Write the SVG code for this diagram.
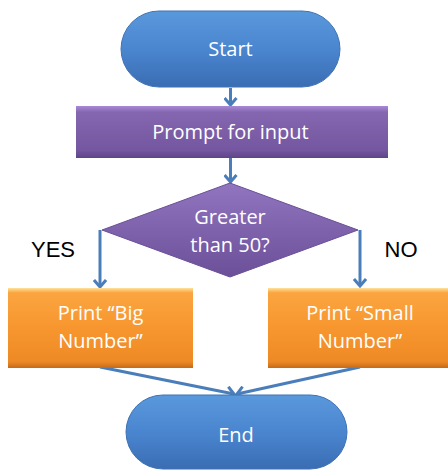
<svg xmlns="http://www.w3.org/2000/svg" width="448" height="470" viewBox="0 0 448 470">
<defs>
<linearGradient id="gBlue" x1="0" y1="0" x2="0" y2="1">
<stop offset="0" stop-color="#5a98dc"/>
<stop offset="0.5" stop-color="#4a86cf"/>
<stop offset="1" stop-color="#3a6db3"/>
</linearGradient>
<linearGradient id="gPurple" x1="0" y1="0" x2="0" y2="1">
<stop offset="0" stop-color="#a98ad6"/>
<stop offset="0.12" stop-color="#8566b0"/>
<stop offset="0.85" stop-color="#7457a0"/>
<stop offset="1" stop-color="#5e4587"/>
</linearGradient>
<linearGradient id="gDiamond" x1="0" y1="0" x2="0" y2="1">
<stop offset="0" stop-color="#9275c0"/>
<stop offset="1" stop-color="#6b4f98"/>
</linearGradient>
<linearGradient id="gOrange" x1="0" y1="0" x2="0" y2="1">
<stop offset="0" stop-color="#fde29a"/>
<stop offset="0.06" stop-color="#fba540"/>
<stop offset="0.5" stop-color="#f7962f"/>
<stop offset="0.92" stop-color="#ee8a25"/>
<stop offset="1" stop-color="#c66a1a"/>
</linearGradient>
<marker id="arr" markerUnits="userSpaceOnUse" markerWidth="14" markerHeight="14" refX="9" refY="7" orient="auto">
<path d="M2,1 L9,7 L2,13" fill="none" stroke="#4a7ebb" stroke-width="3" stroke-linejoin="miter"/>
</marker>
</defs>
<style>
.txt{font-family:"Open Sans","Noto Sans",sans-serif;font-size:20px;fill:#ffffff;text-anchor:middle}
.lbl{font-family:"Liberation Sans",Arial,sans-serif;font-size:22px;fill:#000000;text-anchor:middle}
.con{fill:none;stroke:#4a7ebb;stroke-width:3;marker-end:url(#arr)}
</style>
<g id="connectors">
<line class="con" x1="230.5" y1="88" x2="230.5" y2="105"/>
<line class="con" x1="230.5" y1="158" x2="230.5" y2="182"/>
<polyline class="con" points="100,230 100,287"/>
<polyline class="con" points="360,230 360,286"/>
<line class="con" x1="100" y1="367" x2="234" y2="394"/>
<line class="con" x1="360" y1="367" x2="237" y2="394"/>
</g>
<g id="start">
<rect x="121" y="11" width="219" height="76" rx="38" ry="38" fill="url(#gBlue)" stroke="#3f73b4" stroke-width="1"/>
<text class="txt" x="230.5" y="56">Start</text>
</g>
<g id="prompt">
<rect x="76" y="106" width="312" height="52" fill="url(#gPurple)"/>
<text class="txt" x="230.5" y="139">Prompt for input</text>
</g>
<g id="decision">
<polygon points="230,183 358,230 230,277 102,230" fill="url(#gDiamond)" stroke="#6a4f96" stroke-width="1"/>
<text class="txt" x="230" y="224">Greater</text>
<text class="txt" x="230" y="252">than 50?</text>
</g>
<g id="yes-label"><text class="lbl" x="53" y="257">YES</text></g>
<g id="no-label"><text class="lbl" x="401" y="257">NO</text></g>
<g id="big">
<rect x="8" y="288" width="185" height="80" fill="url(#gOrange)"/>
<text class="txt" x="100.5" y="320">Print “Big</text>
<text class="txt" x="100.5" y="348">Number”</text>
</g>
<g id="small">
<rect x="268" y="288" width="184" height="80" fill="url(#gOrange)"/>
<text class="txt" x="360" y="320">Print “Small</text>
<text class="txt" x="360" y="348">Number”</text>
</g>
<g id="end">
<rect x="126" y="395" width="221" height="74" rx="37" ry="37" fill="url(#gBlue)" stroke="#3f73b4" stroke-width="1"/>
<text class="txt" x="236" y="442">End</text>
</g>
</svg>
